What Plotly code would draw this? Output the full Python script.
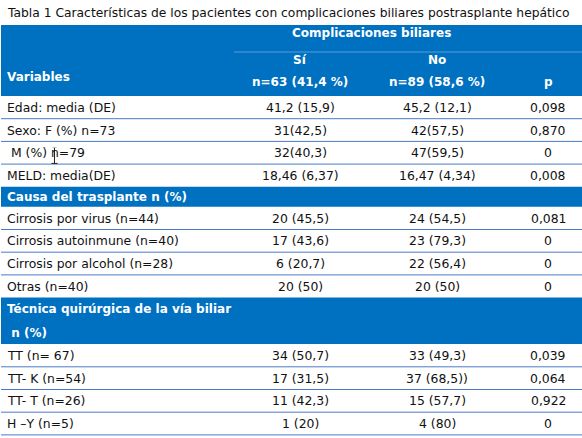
import plotly.graph_objects as go

# ---------------- data ----------------
title = "Tabla 1 Características de los pacientes con complicaciones biliares postrasplante hepático"
header_group = "Complicaciones biliares"
col_labels = ["Sí", "No"]
col_n = ["n=63 (41,4 %)", "n=89 (58,6 %)"]
p_label = "p"
var_label = "Variables"

general_vars = ["Edad: media (DE)", "Sexo: F (%) n=73", "\u00a0M (%) n=79", "MELD: media(DE)"]
general_si = ["41,2 (15,9)", "31(42,5)", "32(40,3)", "18,46 (6,37)"]
general_no = ["45,2 (12,1)", "42(57,5)", "47(59,5)", "16,47 (4,34)"]
general_p = ["0,098", "0,870", "0", "0,008"]

causa_title = ["Causa del trasplante n (%)"]
causa_vars = ["Cirrosis por virus (n=44)", "Cirrosis autoinmune (n=40)",
              "Cirrosis por alcohol (n=28)", "Otras (n=40)"]
causa_si = ["20 (45,5)", "17 (43,6)", "6 (20,7)", "20 (50)"]
causa_no = ["24 (54,5)", "23 (79,3)", "22 (56,4)", "20 (50)"]
causa_p = ["0,081", "0", "0", "0"]

tecnica_title = ["Técnica quirúrgica de la vía biliar", "\u00a0n (%)"]
tecnica_vars = ["TT (n= 67)", "TT- K (n=54)", "TT- T (n=26)", "H –Y (n=5)"]
tecnica_si = ["34 (50,7)", "17 (31,5)", "11 (42,3)", "1 (20)"]
tecnica_no = ["33 (49,3)", "37 (68,5))", "15 (57,7)", "4 (80)"]
tecnica_p = ["0,039", "0,064", "0,922", "0"]

# ---------------- layout / style ----------------
W, H = 582, 438
BLUE = "#0070C0"
LINE = "#4a7cc6"
SUBLINE = "#5a9ad6"
TXT = "#111111"
FONT = "DejaVu Sans"
BODY_SIZE = 12.4
BOLD_SIZE = 12
TITLE_SIZE = 12.3

X_LEFT = 1
X_VAR = 6
X_SI, X_NO, X_P = 300, 437, 548
HEADER_TOP, HEADER_BOTTOM = 25, 96
ROW_H = 22.7

shapes = []
annotations = []


def text(x, y, s, anchor="left", bold=False, color=TXT, size=None):
    if size is None:
        size = BOLD_SIZE if bold else BODY_SIZE
    annotations.append(dict(
        x=x, y=y, xref="x", yref="y", text=s, showarrow=False,
        xanchor=anchor, yanchor="middle", borderpad=0,
        font=dict(family=FONT, size=size, color=color,
                  weight="bold" if bold else "normal")))


def rect(y0, y1, color):
    shapes.append(dict(type="rect", xref="x", yref="y", x0=X_LEFT, x1=W,
                       y0=y0, y1=y1, fillcolor=color, line=dict(width=0),
                       layer="below"))


def hline(y, x0=X_LEFT, x1=W, color=LINE, width=1):
    shapes.append(dict(type="line", xref="x", yref="y", x0=x0, x1=x1,
                       y0=y, y1=y, line=dict(color=color, width=width)))


# title
text(X_VAR, 13, title, size=TITLE_SIZE)

# header block
rect(HEADER_TOP, HEADER_BOTTOM, BLUE)
text(371, 33, header_group, anchor="center", bold=True, color="white")
hline(52, x0=234, color=SUBLINE)
for xc, lab, nlab in zip([X_SI, X_NO], col_labels, col_n):
    text(xc, 60, lab, anchor="center", bold=True, color="white")
    text(xc, 82, nlab, anchor="center", bold=True, color="white")
text(X_VAR, 77, var_label, bold=True, color="white")
text(X_P, 82, p_label, anchor="center", bold=True, color="white")

y = HEADER_BOTTOM
row_tops = []


def data_rows(y, vars_, si, no, pv, last_line=True):
    n = len(vars_)
    for i, (v, a, b, c) in enumerate(zip(vars_, si, no, pv)):
        row_tops.append(y)
        yc = y + ROW_H / 2
        text(X_VAR, yc, v)
        text(X_SI, yc, a, anchor="center")
        text(X_NO, yc, b, anchor="center")
        text(X_P, yc, c, anchor="center")
        y += ROW_H
        if i < n - 1 or last_line:
            hline(y)
    return y


def band(y, lines, heights):
    h = sum(heights)
    rect(y, y + h, BLUE)
    yy = y
    for s, hh in zip(lines, heights):
        text(X_VAR, yy + hh / 2, s, bold=True, color="white")
        yy += hh
    return y + h


y = data_rows(y, general_vars, general_si, general_no, general_p, last_line=False)
y = band(y, causa_title, [20])
y = data_rows(y, causa_vars, causa_si, causa_no, causa_p, last_line=False)
y = band(y, tecnica_title, [23.5, 23])
y = data_rows(y, tecnica_vars, tecnica_si, tecnica_no, tecnica_p, last_line=True)

# text-cursor (I-beam) visible in the screenshot, in the " M (%) n=79" row
cy = row_tops[2]
CX = 54.5
shapes.append(dict(type="line", xref="x", yref="y", x0=CX, x1=CX,
                   y0=cy + 6, y1=cy + 22, line=dict(color="#222222", width=1)))
hline(cy + 22, x0=CX - 3, x1=CX + 3, color="#222222")
hline(cy + 6, x0=CX - 2, x1=CX + 2, color="#9fd0b8")

fig = go.Figure()
fig.update_layout(
    width=W, height=H,
    margin=dict(l=0, r=0, t=0, b=0),
    paper_bgcolor="white", plot_bgcolor="white",
    xaxis=dict(range=[0, W], visible=False, fixedrange=True),
    yaxis=dict(range=[H, 0], visible=False, fixedrange=True),
    shapes=shapes, annotations=annotations,
    showlegend=False,
)
fig.write_html(
    "out.html",
    config={"displayModeBar": False},
    post_script="document.body.style.margin='0';document.body.style.overflow='hidden';",
)
